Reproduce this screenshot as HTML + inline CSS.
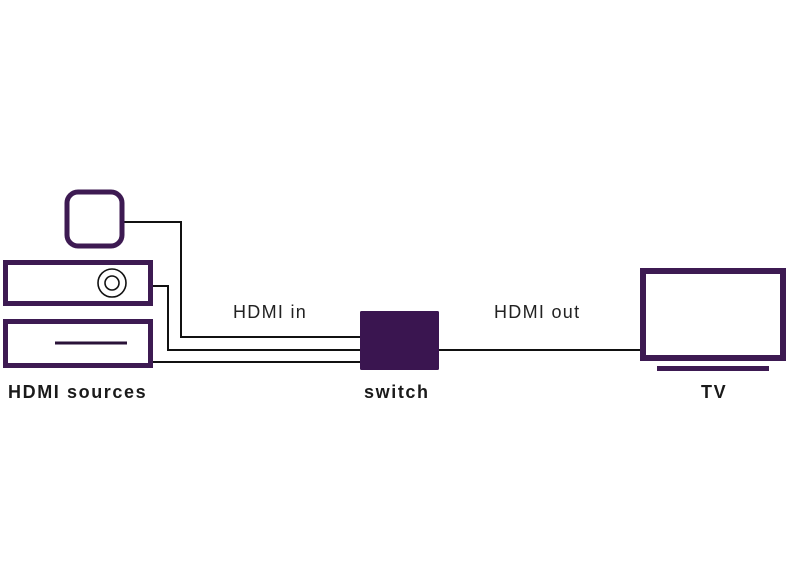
<!DOCTYPE html>
<html><head><style>
html,body{margin:0;padding:0;background:#fff;width:786px;height:587px;overflow:hidden}
svg{display:block}
</style></head><body>
<svg width="786" height="587" viewBox="0 0 786 587" xmlns="http://www.w3.org/2000/svg">
<g fill="none" stroke="#111" stroke-width="2">
<polyline points="124,222 181,222 181,337 361,337"/>
<polyline points="152,286 168,286 168,350 361,350"/>
<polyline points="152,362 361,362"/>
<line x1="439" y1="350" x2="641" y2="350"/>
</g>
<rect x="67" y="192" width="55" height="54" rx="11" fill="#fff" stroke="#3d1a52" stroke-width="5"/>
<rect x="5.5" y="262.5" width="145" height="41" fill="#fff" stroke="#3d1a52" stroke-width="5"/>
<rect x="5.5" y="321.5" width="145" height="44" fill="#fff" stroke="#3d1a52" stroke-width="5"/>
<circle cx="112" cy="283" r="14" fill="none" stroke="#111" stroke-width="1.6"/>
<circle cx="112" cy="283" r="7" fill="none" stroke="#111" stroke-width="1.6"/>
<line x1="55" y1="343" x2="127" y2="343" stroke="#2a1238" stroke-width="3"/>
<rect x="360" y="311" width="79" height="59" rx="1.5" fill="#3a1550"/>
<rect x="643" y="271" width="140" height="87" fill="#fff" stroke="#3d1a52" stroke-width="6"/>
<rect x="657" y="366" width="112" height="5" fill="#3d1a52"/>
<g font-family="Liberation Sans, sans-serif" fill="#222">
<text x="233" y="318" font-size="18" letter-spacing="1.3">HDMI in</text>
<text x="494" y="318" font-size="18" letter-spacing="1.3">HDMI out</text>
<g font-weight="bold" font-size="18" fill="#1a1a1a" letter-spacing="1.6">
<text x="8" y="398">HDMI sources</text>
<text x="364" y="398">switch</text>
<text x="701" y="398">TV</text>
</g>
</g>
</svg>
</body></html>
